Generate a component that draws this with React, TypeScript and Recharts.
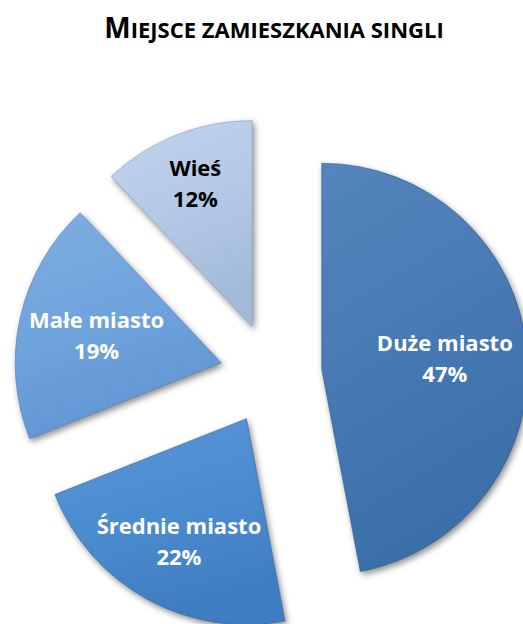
import React from 'react';
import { PieChart, Pie, Cell } from 'recharts';

const categories = ['Duże miasto', 'Średnie miasto', 'Małe miasto', 'Wieś'];
const shares = [47, 22, 19, 12];
const percentLabels = ['47%', '22%', '19%', '12%'];

const data = categories.map((name, i) => ({ name, value: shares[i] }));

const W = 523;
const H = 624;
const CX = 271;
const CY = 374;
const R = 206;
const EXPLODE = 51;
const START = 90;
const END = -270;

const FILL_TOP = ['#5485bc', '#5b96d8', '#7eaee2', '#c2d4ec'];
const FILL_MID = ['#4679b3', '#4b8bd0', '#6fa3dc', '#b3c8e6'];
const FILL_BOTTOM = ['#3b6fa8', '#3f7dc2', '#6196d2', '#a3bad9'];
const EDGE = ['#2f5a8c', '#3468a4', '#4f7fb6', '#8ca3c4'];
const LABEL_COLORS = ['#ffffff', '#ffffff', '#ffffff', '#000000'];
const LABEL_FACTOR = [0.6, 0.68, 0.62, 0.75];
const FONT = '"Open Sans", "Liberation Sans", sans-serif';

const total = shares.reduce((a, b) => a + b, 0);
const midAngles = shares.map((v, i) => {
  const before = shares.slice(0, i).reduce((a, b) => a + b, 0);
  return START - (360 * (before + v / 2)) / total;
});
const explodeOffset = (i: number) => {
  const a = (midAngles[i] * Math.PI) / 180;
  return [EXPLODE * Math.cos(a), -EXPLODE * Math.sin(a)];
};

const renderLabel = (props: any) => {
  const { index, cx, cy, midAngle, outerRadius } = props;
  const a = (midAngle * Math.PI) / 180;
  const [ox, oy] = explodeOffset(index);
  const rr = outerRadius * LABEL_FACTOR[index];
  const x = cx + ox + rr * Math.cos(a);
  const y = cy + oy - rr * Math.sin(a);
  const common = {
    textAnchor: 'middle' as const,
    fill: LABEL_COLORS[index],
    fontFamily: FONT,
    fontWeight: 700,
    fontSize: 22,
  };
  return (
    <g key={`lbl-${index}`}>
      <text x={x} y={y - 7} {...common}>{categories[index]}</text>
      <text x={x} y={y + 24} {...common}>{percentLabels[index]}</text>
    </g>
  );
};

export default function App() {
  return (
    <div style={{ position: 'absolute', left: 0, top: 0, width: W, height: H, background: '#fff', overflow: 'hidden' }}>
      <style>{`path.recharts-sector, .recharts-pie-sector path { filter: drop-shadow(2px 3px 3px rgba(0,0,0,0.45)); }`}</style>
      <svg width={W} height={60} style={{ position: 'absolute', left: 0, top: 0, zIndex: 2 }}>
        <defs>
          {FILL_MID.map((c, i) => (
            <linearGradient key={i} id={`grad${i}`} x1="0" y1="0" x2="0.3" y2="1">
              <stop offset="0%" stopColor={FILL_TOP[i]} />
              <stop offset="55%" stopColor={c} />
              <stop offset="100%" stopColor={FILL_BOTTOM[i]} />
            </linearGradient>
          ))}
        </defs>
        <text x={274} y={38} textAnchor="middle" fontFamily={FONT} fontWeight={700} fill="#000">
          <tspan fontSize={28}>M</tspan>
          <tspan fontSize={22}>IEJSCE ZAMIESZKANIA SINGLI</tspan>
        </text>
      </svg>
      <div style={{ position: 'absolute', left: 0, top: 0 }}>
        <PieChart width={W} height={H} margin={{ top: 0, right: 0, bottom: 0, left: 0 }}>
          <Pie
            data={data}
            dataKey="value"
            nameKey="name"
            cx={CX}
            cy={CY}
            outerRadius={R}
            startAngle={START}
            endAngle={END}
            isAnimationActive={false}
            labelLine={false}
            label={renderLabel}
          >
            {data.map((d, i) => {
              const [ox, oy] = explodeOffset(i);
              return (
                <Cell
                  key={d.name}
                  fill={`url(#grad${i})`}
                  stroke={EDGE[i]}
                  strokeWidth={1}
                  strokeOpacity={0.6}
                  transform={`translate(${ox}, ${oy})`}
                />
              );
            })}
          </Pie>
        </PieChart>
      </div>
    </div>
  );
}
